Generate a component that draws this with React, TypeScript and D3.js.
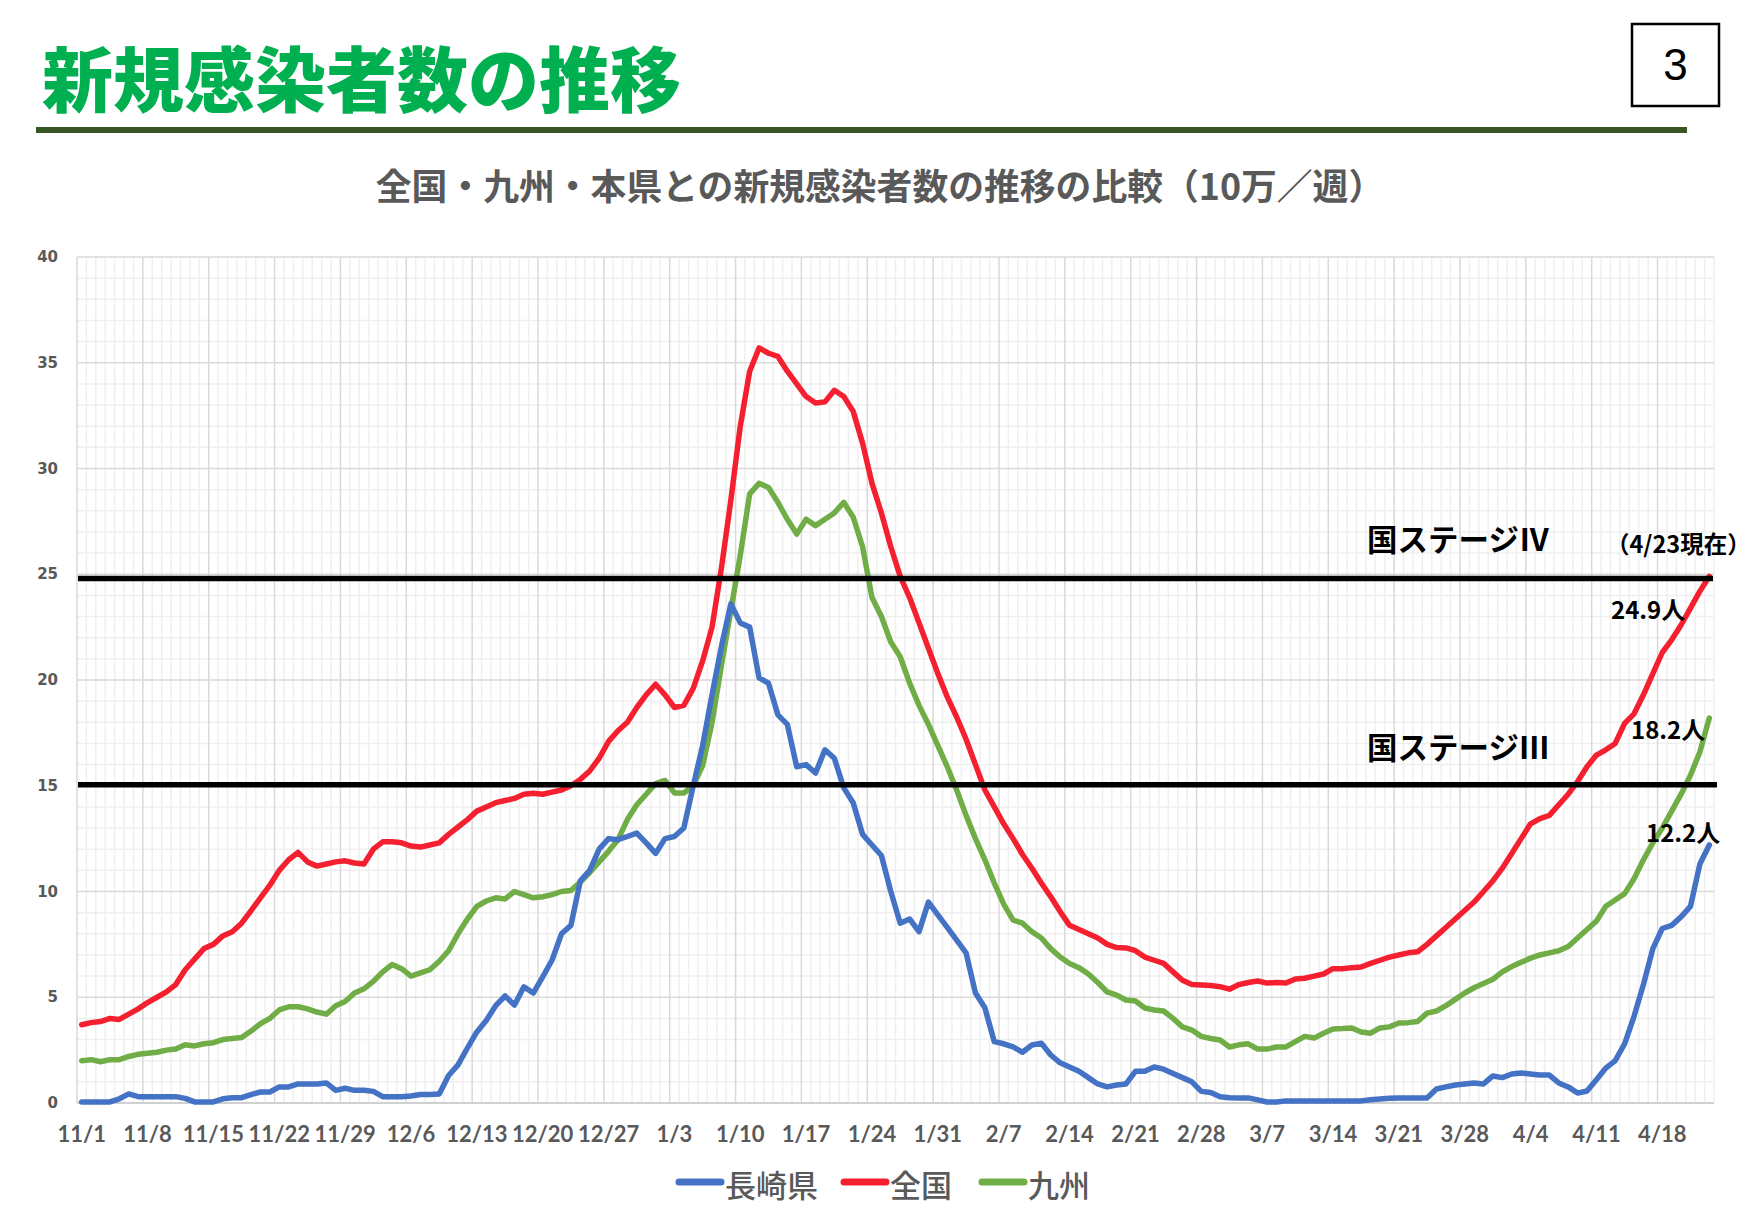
import React from "react";
import * as d3 from "d3";

const W = 1754;
const H = 1227;

const startDate = new Date(2020, 10, 1);
const endDate = new Date(2021, 3, 24);
const fmt = d3.timeFormat("%-m/%-d");
const categories: string[] = d3.timeDay.range(startDate, endDate).map((d) => fmt(d));

const tickLabels = ["11/1","11/8","11/15","11/22","11/29","12/6","12/13","12/20","12/27","1/3","1/10","1/17","1/24","1/31","2/7","2/14","2/21","2/28","3/7","3/14","3/21","3/28","4/4","4/11","4/18"];
const yTicks = [0, 5, 10, 15, 20, 25, 30, 35, 40];

const nagasaki = [
  0.05, 0.05, 0.05, 0.05, 0.2, 0.43, 0.3,
  0.3, 0.3, 0.3, 0.3, 0.22, 0.05, 0.05,
  0.05, 0.2, 0.25, 0.25, 0.4, 0.52, 0.52,
  0.76, 0.76, 0.9, 0.9, 0.9, 0.95, 0.6,
  0.7, 0.6, 0.6, 0.55, 0.3, 0.3, 0.3,
  0.33, 0.4, 0.4, 0.43, 1.3, 1.8, 2.6,
  3.36, 3.9, 4.6, 5.06, 4.63, 5.49, 5.2,
  5.96, 6.76, 8.0, 8.4, 10.5, 11.0, 12.0,
  12.5, 12.45, 12.6, 12.76, 12.3, 11.8, 12.5,
  12.6, 13.0, 15.0, 16.9, 19.3, 21.6, 23.6,
  22.7, 22.5, 20.1, 19.85, 18.35, 17.9, 15.9,
  16.0, 15.6, 16.7, 16.3, 14.9, 14.2, 12.7,
  12.2, 11.7, 10.0, 8.5, 8.7, 8.1, 9.5,
  8.9, 8.3, 7.7, 7.1, 5.2, 4.5, 2.9,
  2.8, 2.65, 2.4, 2.74, 2.83, 2.27, 1.9,
  1.7, 1.5, 1.2, 0.9, 0.76, 0.85, 0.9,
  1.5, 1.5, 1.7, 1.6, 1.4, 1.2, 1.0,
  0.55, 0.5, 0.3, 0.25, 0.24, 0.24, 0.15,
  0.05, 0.05, 0.1, 0.1, 0.1, 0.1, 0.1,
  0.1, 0.1, 0.1, 0.1, 0.15, 0.19, 0.22,
  0.24, 0.24, 0.24, 0.24, 0.66, 0.76, 0.85,
  0.9, 0.95, 0.9, 1.28, 1.2, 1.37, 1.42,
  1.37, 1.32, 1.32, 0.95, 0.76, 0.47, 0.57,
  1.1, 1.65, 2.0, 2.8, 4.1, 5.6, 7.3,
  8.25, 8.4, 8.8, 9.3, 11.3, 12.2,
];

const zenkoku = [
  3.7, 3.8, 3.85, 4.0, 3.95, 4.2, 4.45,
  4.75, 5.0, 5.25, 5.6, 6.3, 6.8, 7.3,
  7.5, 7.9, 8.1, 8.5, 9.1, 9.7, 10.3,
  11.0, 11.5, 11.85, 11.4, 11.2, 11.3, 11.4,
  11.45, 11.35, 11.3, 12.0, 12.35, 12.35, 12.3,
  12.15, 12.1, 12.2, 12.3, 12.7, 13.05, 13.4,
  13.8, 14.0, 14.2, 14.3, 14.4, 14.6, 14.65,
  14.6, 14.7, 14.8, 15.0, 15.3, 15.7, 16.3,
  17.1, 17.6, 18.0, 18.7, 19.3, 19.8, 19.3,
  18.7, 18.8, 19.6, 20.9, 22.5, 25.3, 28.5,
  32.0, 34.6, 35.7, 35.45, 35.3, 34.6, 34.0,
  33.4, 33.1, 33.15, 33.7, 33.4, 32.7, 31.2,
  29.3, 27.9, 26.3, 24.9, 23.9, 22.7, 21.5,
  20.3, 19.2, 18.25, 17.2, 16.0, 14.8, 14.0,
  13.2, 12.5, 11.75, 11.1, 10.4, 9.75, 9.05,
  8.4, 8.2, 8.0, 7.8, 7.5, 7.35, 7.33,
  7.2, 6.9, 6.75, 6.6, 6.2, 5.8, 5.6,
  5.58, 5.56, 5.5, 5.38, 5.6, 5.7, 5.77,
  5.67, 5.7, 5.67, 5.86, 5.9, 6.0, 6.1,
  6.35, 6.35, 6.4, 6.43, 6.6, 6.75, 6.9,
  7.0, 7.1, 7.15, 7.5, 7.9, 8.3, 8.7,
  9.1, 9.5, 10.0, 10.5, 11.1, 11.8, 12.5,
  13.2, 13.45, 13.6, 14.1, 14.6, 15.2, 15.9,
  16.45, 16.7, 17.0, 17.95, 18.4, 19.3, 20.3,
  21.3, 21.9, 22.6, 23.4, 24.2, 24.9,
];

const kyushu = [
  2.0, 2.05, 1.95, 2.05, 2.05, 2.2, 2.3,
  2.35, 2.4, 2.5, 2.55, 2.75, 2.7, 2.8,
  2.85, 3.0, 3.05, 3.1, 3.4, 3.75, 4.0,
  4.4, 4.55, 4.55, 4.45, 4.3, 4.2, 4.6,
  4.8, 5.2, 5.4, 5.75, 6.2, 6.55, 6.35,
  6.0, 6.15, 6.3, 6.7, 7.2, 8.0, 8.7,
  9.3, 9.55, 9.7, 9.65, 10.0, 9.85, 9.7,
  9.75, 9.85, 10.0, 10.05, 10.45, 10.9, 11.4,
  11.9, 12.45, 13.4, 14.1, 14.6, 15.1, 15.25,
  14.66, 14.66, 15.0, 15.95, 18.0, 20.7, 23.3,
  25.9, 28.8, 29.3, 29.1, 28.4, 27.6, 26.9,
  27.6, 27.3, 27.6, 27.9, 28.4, 27.7, 26.3,
  23.9, 23.0, 21.8, 21.1, 19.85, 18.8, 17.9,
  16.9, 15.9, 14.8, 13.6, 12.5, 11.5, 10.4,
  9.4, 8.65, 8.5, 8.1, 7.8, 7.3, 6.9,
  6.6, 6.4, 6.1, 5.7, 5.25, 5.1, 4.87,
  4.82, 4.49, 4.4, 4.35, 4.0, 3.6, 3.45,
  3.15, 3.05, 2.98, 2.65, 2.75, 2.8, 2.55,
  2.55, 2.65, 2.65, 2.9, 3.15, 3.07, 3.3,
  3.5, 3.52, 3.55, 3.36, 3.3, 3.55, 3.6,
  3.78, 3.8, 3.85, 4.25, 4.35, 4.6, 4.9,
  5.2, 5.45, 5.65, 5.85, 6.2, 6.45, 6.65,
  6.85, 7.0, 7.1, 7.2, 7.4, 7.8, 8.2,
  8.6, 9.3, 9.6, 9.9, 10.6, 11.5, 12.3,
  13.0, 13.8, 14.6, 15.5, 16.6, 18.2,
];

const seriesNames = ["長崎県", "全国", "九州"];
const seriesColors = ["#4472c4", "#f5202f", "#70ad47"];
const seriesData = [nagasaki, zenkoku, kyushu];
const drawOrder = [2, 0, 1];

const stageNames = ["国ステージⅣ", "国ステージⅢ"];
const stageValues = [24.8, 15.05];

const endLabels = ["24.9人", "18.2人", "12.2人"];

export default function App() {
  const left = 77;
  const right = 1714;
  const top = 257;
  const bottom = 1103;

  const x = d3.scaleBand<string>().domain(categories).range([left, right]).padding(0);
  const bw = x.bandwidth();
  const y = d3.scaleLinear().domain([0, 40]).range([bottom, top]);
  const cx = (i: number) => (x(categories[i]) as number) + bw / 2;

  const line = d3
    .line<number>()
    .x((_, i) => cx(i))
    .y((v) => y(v))
    .curve(d3.curveLinear);

  const minorV: number[] = d3.range(0, categories.length + 1);
  const minorH: number[] = d3.range(0, 41);

  const cjk = "'Noto Sans CJK JP', 'Noto Sans', sans-serif";

  return (
    <svg
      width={W}
      height={H}
      viewBox={`0 0 ${W} ${H}`}
      style={{ position: "absolute", left: 0, top: 0, background: "#fff" }}
    >
      <rect x={0} y={0} width={W} height={H} fill="#ffffff" />
      {/* Title */}
      <text x={42} y={106} fontFamily={cjk} fontWeight={900} fontSize={71} fill="#00b050">
        新規感染者数の推移
      </text>
      <rect x={36} y={127} width={1651} height={6} fill="#375623" />
      {/* page number */}
      <rect x={1632} y={24} width={87} height={82} fill="none" stroke="#000" strokeWidth={2.5} />
      <text x={1675.5} y={80} textAnchor="middle" fontFamily="'Liberation Sans', Arial, sans-serif" fontSize={44} fill="#000">
        3
      </text>
      {/* subtitle */}
      <text x={880} y={200} textAnchor="middle" fontFamily={cjk} fontWeight={700} fontSize={35.8} fill="#595959">
        全国・九州・本県との新規感染者数の推移の比較（10万／週）
      </text>

      {/* grid */}
      <g>
        {minorH.filter((v) => v % 5 !== 0).map((v) => (
          <line key={"mh" + v} x1={left} x2={right} y1={y(v)} y2={y(v)} stroke="#efefef" strokeWidth={1.5} />
        ))}
        {minorV.filter((i) => i % 7 !== 0).map((i) => {
          const xx = left + i * bw;
          return <line key={"mv" + i} x1={xx} x2={xx} y1={top} y2={bottom} stroke="#efefef" strokeWidth={1.5} />;
        })}
        {minorH.filter((v) => v % 5 === 0 && v !== 0).map((v) => (
          <line key={"Mh" + v} x1={left} x2={right} y1={y(v)} y2={y(v)} stroke="#d9d9d9" strokeWidth={1.5} />
        ))}
        {minorV.filter((i) => i % 7 === 0).map((i) => {
          const xx = left + i * bw;
          return <line key={"Mv" + i} x1={xx} x2={xx} y1={top} y2={bottom} stroke="#d9d9d9" strokeWidth={1.5} />;
        })}
        <line x1={left} x2={right} y1={y(0)} y2={y(0)} stroke="#d0d0d0" strokeWidth={2} />
      </g>

      {/* y tick labels */}
      {yTicks.map((v) => (
        <text
          key={"yt" + v}
          x={58}
          y={y(v)}
          dominantBaseline="central"
          textAnchor="end"
          fontFamily="'DejaVu Sans', Verdana, sans-serif"
          fontWeight={700}
          fontSize={15}
          fill="#595959"
        >
          {v}
        </text>
      ))}

      {/* x tick labels */}
      {tickLabels.map((lab) => {
        const i = categories.indexOf(lab);
        return (
          <text
            key={"xt" + lab}
            x={cx(i)}
            y={1142}
            textAnchor="middle"
            fontFamily="Lato, 'Open Sans', sans-serif"
            fontWeight={700}
            fontSize={22}
            fill="#595959"
          >
            {lab}
          </text>
        );
      })}

      {/* series */}
      {drawOrder.map((k) => (
        <path
          key={"s" + k}
          d={line(seriesData[k]) as string}
          fill="none"
          stroke={seriesColors[k]}
          strokeWidth={5.5}
          strokeLinejoin="round"
          strokeLinecap="round"
        />
      ))}

      {/* stage lines */}
      {stageValues.map((v, k) => (
        <line key={"st" + k} x1={left + 1} x2={right + (k === 1 ? 3 : -1)} y1={y(v)} y2={y(v)} stroke="#000" strokeWidth={5.5} />
      ))}
      <text x={1367} y={551} fontFamily={cjk} fontWeight={700} fontSize={30.5} fill="#000">
        {stageNames[0]}
      </text>
      <text x={1367} y={759} fontFamily={cjk} fontWeight={700} fontSize={30.5} fill="#000">
        {stageNames[1]}
      </text>
      <text x={1606} y={553} fontFamily={cjk} fontWeight={700} fontSize={23.5} fill="#000">
        （4/23現在）
      </text>

      {/* end labels */}
      <text x={1611} y={619} fontFamily={cjk} fontWeight={700} fontSize={24} fill="#000">
        {endLabels[0]}
      </text>
      <text x={1631} y={739} fontFamily={cjk} fontWeight={700} fontSize={24} fill="#000">
        {endLabels[1]}
      </text>
      <text x={1646} y={842} fontFamily={cjk} fontWeight={700} fontSize={24} fill="#000">
        {endLabels[2]}
      </text>

      {/* legend */}
      {[0, 1, 2].map((k) => {
        const lx = [677, 842, 980][k];
        return (
          <g key={"lg" + k}>
            <line x1={lx + 2} x2={lx + 44} y1={1182} y2={1182} stroke={seriesColors[k]} strokeWidth={7} strokeLinecap="round" />
            <text x={lx + 48} y={1183} dominantBaseline="central" fontFamily={cjk} fontWeight={500} fontSize={31} fill="#595959">
              {seriesNames[k]}
            </text>
          </g>
        );
      })}
    </svg>
  );
}
